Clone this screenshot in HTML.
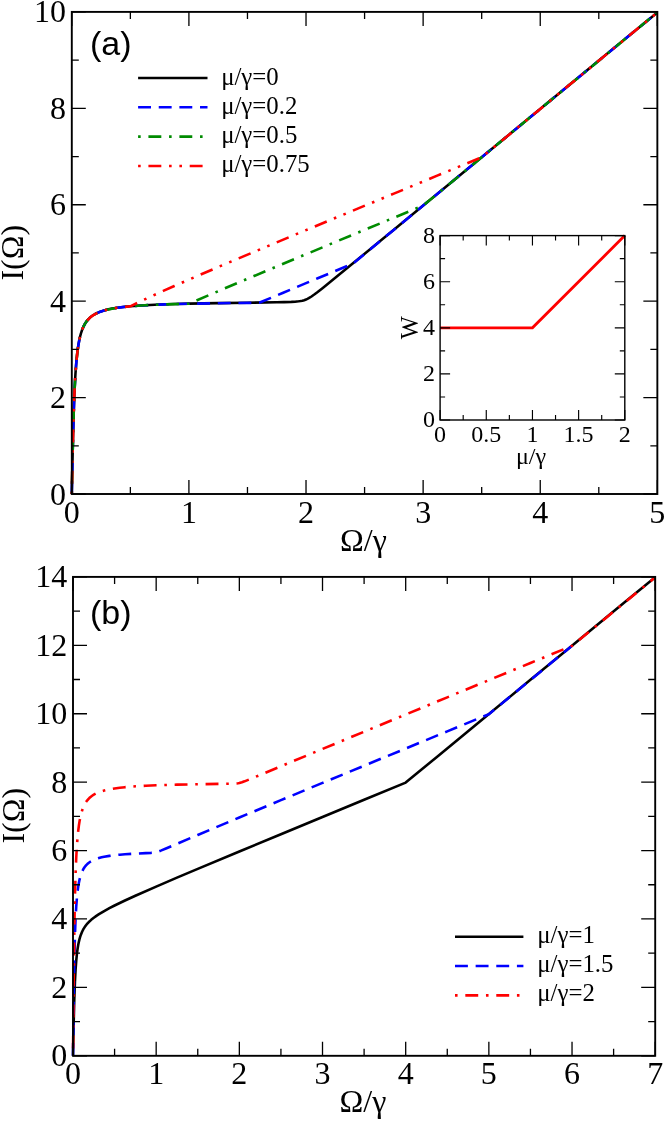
<!DOCTYPE html>
<html lang="en"><head><meta charset="utf-8"><title>I(Omega) versus Omega/gamma</title>
<style>
html,body{margin:0;padding:0;background:#fff;}
body{width:664px;height:1122px;overflow:hidden;font-family:"Liberation Serif",serif;}
svg{display:block;will-change:transform;}
text{fill:#000;font-family:"Liberation Serif",serif;}
text.sans{font-family:"Liberation Sans",sans-serif;}
</style></head><body>
<svg width="664" height="1122" viewBox="0 0 664 1122">
<rect width="664" height="1122" fill="#fff"/>
<!-- panel (a) -->
<g fill="none" stroke-width="2.58" stroke-linejoin="round">
<path d="M71.8 493.96L72.71 450.23L73.63 415.43L74.09 401.98L74.54 390.81L75 381.52L75.46 373.75L76.37 361.67L77.29 352.82L78.2 346.13L79.12 340.91L80.03 336.75L80.95 333.35L81.86 330.54L82.78 328.17L83.69 326.15L84.61 324.4L85.52 322.88L86.44 321.55L87.35 320.37L88.27 319.31L90.1 317.51L91.93 316.04L93.76 314.8L95.59 313.76L97.42 312.86L99.25 312.08L101.08 311.4L104.74 310.26L108.4 309.35L112.06 308.6L115.72 307.97L123.04 306.99L130.36 306.26L137.67 305.68L144.99 305.22L159.63 304.53L174.27 304.03L188.91 303.65L218.19 303.11L247.47 302.71L276.74 302.29L284.06 302.13L291.38 301.88L295.04 301.67L298.7 301.33L300.53 301.07L302.36 300.71L304.19 300.22L306.02 299.56L307.39 298.93L308.76 298.2L311.51 296.49L314.25 294.56L317 292.51L322.49 288.21L327.98 283.81L349.94 265.86L393.85 229.67L437.77 193.44L481.69 157.21L525.6 120.99L569.52 84.78L613.43 48.58L657.35 12.39" stroke="#000"/>
<path d="M71.8 494L72.53 458.49L73.26 428.09L74 404.52L74.73 386.93L75.46 373.8L76.19 363.83L76.92 356.1L77.66 349.98L78.39 345.03L79.12 340.95L79.85 337.55L80.58 334.68L81.32 332.21L82.05 330.08L82.78 328.21L83.51 326.57L84.97 323.82L86.44 321.59L87.9 319.77L89.37 318.24L90.83 316.94L92.29 315.82L93.76 314.85L95.22 314L98.15 312.59L101.08 311.45L104.01 310.52L106.93 309.74L109.86 309.08L112.79 308.52L118.64 307.6L124.5 306.88L130.36 306.31L142.07 305.46L153.78 304.84L165.49 304.38L188.91 303.74L212.33 303.31L235.75 303L259.18 302.77L270.89 297.86L282.6 292.95L294.31 288.05L306.02 283.16L317.73 278.28L329.44 273.41L341.15 268.53L352.86 263.67L390.92 232.2L428.99 200.76L467.05 169.35L505.11 137.94L543.17 106.55L581.23 75.17L619.29 43.79L657.35 12.42" stroke="#0000ff" stroke-dasharray="12.9 7.74"/>
<path d="M71.8 494L72.71 450.28L73.63 415.47L74.09 402.03L74.54 390.85L75 381.56L75.46 373.8L76.37 361.72L77.29 352.87L78.2 346.17L79.12 340.95L80.03 336.79L80.95 333.4L81.86 330.58L82.78 328.21L83.69 326.19L84.61 324.45L85.52 322.93L86.44 321.59L87.35 320.41L88.27 319.36L90.1 317.56L91.93 316.09L93.76 314.85L95.59 313.81L97.42 312.91L99.25 312.13L101.08 311.45L104.74 310.31L108.4 309.4L112.06 308.65L115.72 308.03L123.04 307.05L130.36 306.31L137.67 305.74L144.99 305.28L159.63 304.6L174.27 304.11L188.91 303.74L218.19 291.17L247.47 278.77L276.74 266.48L306.02 254.24L335.3 242.04L364.58 229.88L393.85 217.73L423.13 205.6L452.41 181.43L481.69 157.27L510.96 133.11L540.24 108.96L569.52 84.82L598.8 60.68L628.07 36.55L657.35 12.42" stroke="#008b00" stroke-dasharray="2.58 7.74 12.9 7.74"/>
<path d="M71.8 494L72.71 450.28L73.63 415.47L74.09 402.03L74.54 390.85L75 381.56L75.46 373.8L76.37 361.72L77.29 352.87L78.2 346.17L79.12 340.95L80.03 336.79L80.95 333.4L81.86 330.58L82.78 328.21L83.69 326.19L84.61 324.45L85.52 322.93L86.44 321.59L87.35 320.41L88.27 319.36L90.1 317.56L91.93 316.09L93.76 314.85L95.59 313.81L97.42 312.91L99.25 312.13L101.08 311.45L104.74 310.31L108.4 309.4L112.06 308.65L115.72 308.03L123.04 307.05L130.36 306.31L141.33 300.98L152.31 295.87L163.29 290.9L174.27 286.03L196.23 276.47L218.19 267.06L262.1 248.51L306.02 230.13L349.94 211.85L393.85 193.62L437.77 175.43L481.69 157.27L503.64 139.15L525.6 121.04L547.56 102.93L569.52 84.82L591.48 66.72L613.43 48.61L635.39 30.51L657.35 12.42" stroke="#ff0000" stroke-dasharray="2.58 7.74 12.9 7.74 2.58 7.74"/>
</g>
<path d="M71.8 494v-14M71.8 11.9v14M188.91 494v-14M188.91 11.9v14M306.02 494v-14M306.02 11.9v14M423.13 494v-14M423.13 11.9v14M540.24 494v-14M540.24 11.9v14M657.35 494v-14M657.35 11.9v14M130.36 494v-7M130.36 11.9v7M247.47 494v-7M247.47 11.9v7M364.58 494v-7M364.58 11.9v7M481.69 494v-7M481.69 11.9v7M598.8 494v-7M598.8 11.9v7M71.8 494h14M657.35 494h-14M71.8 397.58h14M657.35 397.58h-14M71.8 301.16h14M657.35 301.16h-14M71.8 204.74h14M657.35 204.74h-14M71.8 108.32h14M657.35 108.32h-14M71.8 11.9h14M657.35 11.9h-14M71.8 445.79h7M657.35 445.79h-7M71.8 349.37h7M657.35 349.37h-7M71.8 252.95h7M657.35 252.95h-7M71.8 156.53h7M657.35 156.53h-7M71.8 60.11h7M657.35 60.11h-7" stroke="#000" stroke-width="1.3" fill="none"/>
<rect x="71.8" y="11.9" width="585.55" height="482.1" fill="none" stroke="#000" stroke-width="1.9"/>
<text x="66" y="504.5" font-size="32" text-anchor="end">0</text>
<text x="66" y="408.08" font-size="32" text-anchor="end">2</text>
<text x="66" y="311.66" font-size="32" text-anchor="end">4</text>
<text x="66" y="215.24" font-size="32" text-anchor="end">6</text>
<text x="66" y="118.82" font-size="32" text-anchor="end">8</text>
<text x="66" y="22.4" font-size="32" text-anchor="end">10</text>
<text x="71.8" y="522.6" font-size="32" text-anchor="middle">0</text>
<text x="188.91" y="522.6" font-size="32" text-anchor="middle">1</text>
<text x="306.02" y="522.6" font-size="32" text-anchor="middle">2</text>
<text x="423.13" y="522.6" font-size="32" text-anchor="middle">3</text>
<text x="540.24" y="522.6" font-size="32" text-anchor="middle">4</text>
<text x="657.35" y="522.6" font-size="32" text-anchor="middle">5</text>
<text x="340.06" y="551.4" font-size="32">Ω/γ</text>
<g transform="translate(23 280.62) rotate(-90)">
<text x="0" y="0" font-size="32">I(Ω)</text>
</g>
<text class="sans" x="90" y="55" font-size="34">(a)</text>
<path d="M138.1 78H207.5" stroke="#000" stroke-width="2.58" fill="none"/>
<text x="221.2" y="84.5" font-size="24.8">μ/γ=0</text>
<path d="M138.1 107.33H207.5" stroke="#0000ff" stroke-width="2.58" fill="none" stroke-dasharray="12.9 7.74"/>
<text x="221.2" y="113.83" font-size="24.8">μ/γ=0.2</text>
<path d="M138.1 136.66H207.5" stroke="#008b00" stroke-width="2.58" fill="none" stroke-dasharray="2.58 7.74 12.9 7.74"/>
<text x="221.2" y="143.16" font-size="24.8">μ/γ=0.5</text>
<path d="M138.1 165.99H207.5" stroke="#ff0000" stroke-width="2.58" fill="none" stroke-dasharray="2.58 7.74 12.9 7.74 2.58 7.74"/>
<text x="221.2" y="172.49" font-size="24.8">μ/γ=0.75</text>
<!-- inset: W versus mu/gamma -->
<path d="M440.1 327.8L532.45 327.8L624.8 235.6" stroke="#ff0000" stroke-width="2.8" fill="none"/>
<path d="M440.1 420v-10M440.1 235.6v10M486.27 420v-10M486.27 235.6v10M532.45 420v-10M532.45 235.6v10M578.62 420v-10M578.62 235.6v10M624.8 420v-10M624.8 235.6v10M463.19 420v-5M463.19 235.6v5M509.36 420v-5M509.36 235.6v5M555.54 420v-5M555.54 235.6v5M601.71 420v-5M601.71 235.6v5M440.1 420h10M624.8 420h-10M440.1 373.9h10M624.8 373.9h-10M440.1 327.8h10M624.8 327.8h-10M440.1 281.7h10M624.8 281.7h-10M440.1 235.6h10M624.8 235.6h-10M440.1 396.95h5M624.8 396.95h-5M440.1 350.85h5M624.8 350.85h-5M440.1 304.75h5M624.8 304.75h-5M440.1 258.65h5M624.8 258.65h-5" stroke="#000" stroke-width="1.15" fill="none"/>
<rect x="440.1" y="235.6" width="184.7" height="184.4" fill="none" stroke="#000" stroke-width="1.4"/>
<text x="435.1" y="427.4" font-size="24" text-anchor="end">0</text>
<text x="435.1" y="381.3" font-size="24" text-anchor="end">2</text>
<text x="435.1" y="335.2" font-size="24" text-anchor="end">4</text>
<text x="435.1" y="289.1" font-size="24" text-anchor="end">6</text>
<text x="435.1" y="243" font-size="24" text-anchor="end">8</text>
<text x="440.1" y="441.7" font-size="24" text-anchor="middle">0</text>
<text x="486.27" y="441.7" font-size="24" text-anchor="middle">0.5</text>
<text x="532.45" y="441.7" font-size="24" text-anchor="middle">1</text>
<text x="578.62" y="441.7" font-size="24" text-anchor="middle">1.5</text>
<text x="624.8" y="441.7" font-size="24" text-anchor="middle">2</text>
<text x="515.97" y="463.6" font-size="24">μ/γ</text>
<text transform="translate(417.8 327.8) rotate(-90)" font-size="24.4" text-anchor="middle">W</text>
<!-- panel (b) -->
<g fill="none" stroke-width="2.58" stroke-linejoin="round">
<path d="M73 1055.8L73.65 1024.51L74.3 999.54L74.95 981.81L75.6 969.44L76.25 960.6L76.9 954.06L77.55 949.04L78.2 945.07L78.85 941.85L79.5 939.17L80.15 936.91L80.8 934.96L82.1 931.75L83.4 929.19L84.7 927.07L86 925.26L87.3 923.68L88.59 922.27L91.19 919.83L93.79 917.72L96.39 915.84L98.99 914.13L104.19 911.02L109.39 908.18L114.59 905.52L124.98 900.52L135.38 895.75L156.17 886.59L176.96 877.68L197.76 868.88L239.34 851.47L280.93 834.19L322.51 816.96L364.1 799.77L405.69 782.6L436.88 756.91L468.06 731.22L499.25 705.53L530.44 679.85L561.63 654.18L592.82 628.5L624.01 602.83L655.2 577.16" stroke="#000"/>
<path d="M73 1055.8L73.65 1001.76L74.3 961.67L74.95 935.43L75.6 918.21L76.25 906.42L76.9 897.98L77.55 891.67L78.2 886.81L78.85 882.95L79.5 879.83L80.15 877.24L80.8 875.07L81.45 873.23L82.1 871.63L83.4 869.04L84.7 867.01L86 865.38L87.3 864.04L88.59 862.92L89.89 861.97L91.19 861.16L93.79 859.84L96.39 858.81L98.99 857.99L101.59 857.31L104.19 856.75L109.39 855.86L114.59 855.19L119.78 854.67L124.98 854.25L135.38 853.62L145.78 853.12L150.97 852.85L153.57 852.64L154.87 852.47L156.17 852.21L158.77 851.42L161.37 850.42L166.57 848.26L176.96 843.83L197.76 834.99L239.34 817.51L280.93 800.18L322.51 782.92L364.1 765.71L405.69 748.53L447.27 731.36L488.86 714.2L499.25 705.64L509.65 697.08L520.05 688.52L530.44 679.95L540.84 671.39L551.24 662.83L561.63 654.27L572.03 645.71" stroke="#0000ff" stroke-dasharray="12.9 7.74"/>
<path d="M73 1055.8L73.65 984.46L74.3 931.26L74.95 896.24L75.6 873.19L76.25 857.37L76.9 846.02L77.55 837.54L78.2 830.99L78.85 825.8L79.5 821.59L80.15 818.11L80.8 815.19L81.45 812.7L82.1 810.56L83.4 807.06L84.7 804.32L86 802.12L87.3 800.32L88.59 798.82L89.89 797.54L91.19 796.45L92.49 795.5L93.79 794.66L96.39 793.28L98.99 792.17L101.59 791.26L104.19 790.5L106.79 789.86L109.39 789.3L114.59 788.41L119.78 787.71L124.98 787.16L135.38 786.32L145.78 785.72L156.17 785.27L176.96 784.64L197.76 784.21L218.55 783.89L228.95 783.72L234.14 783.57L236.74 783.41L238.04 783.26L239.34 783.03L241.94 782.29L244.54 781.33L249.74 779.24L260.14 774.94L280.93 766.27L322.51 748.97L364.1 731.73L405.69 714.51L447.27 697.32L488.86 680.15L530.44 662.99L572.03 645.84L582.43 637.28L592.82 628.72L603.22 620.15L613.61 611.59L624.01 603.03L634.41 594.47L644.8 585.91L655.2 577.35" stroke="#ff0000" stroke-dasharray="2.58 7.74 12.9 7.74" stroke-dashoffset="2.9"/>
</g>
<path d="M73 1055.8v-14M73 576.9v14M156.17 1055.8v-14M156.17 576.9v14M239.34 1055.8v-14M239.34 576.9v14M322.51 1055.8v-14M322.51 576.9v14M405.69 1055.8v-14M405.69 576.9v14M488.86 1055.8v-14M488.86 576.9v14M572.03 1055.8v-14M572.03 576.9v14M655.2 1055.8v-14M655.2 576.9v14M114.59 1055.8v-7M114.59 576.9v7M197.76 1055.8v-7M197.76 576.9v7M280.93 1055.8v-7M280.93 576.9v7M364.1 1055.8v-7M364.1 576.9v7M447.27 1055.8v-7M447.27 576.9v7M530.44 1055.8v-7M530.44 576.9v7M613.61 1055.8v-7M613.61 576.9v7M73 1055.8h14M655.2 1055.8h-14M73 987.39h14M655.2 987.39h-14M73 918.97h14M655.2 918.97h-14M73 850.56h14M655.2 850.56h-14M73 782.14h14M655.2 782.14h-14M73 713.73h14M655.2 713.73h-14M73 645.31h14M655.2 645.31h-14M73 576.9h14M655.2 576.9h-14M73 1021.59h7M655.2 1021.59h-7M73 953.18h7M655.2 953.18h-7M73 884.76h7M655.2 884.76h-7M73 816.35h7M655.2 816.35h-7M73 747.94h7M655.2 747.94h-7M73 679.52h7M655.2 679.52h-7M73 611.11h7M655.2 611.11h-7" stroke="#000" stroke-width="1.3" fill="none"/>
<rect x="73" y="576.9" width="582.2" height="478.9" fill="none" stroke="#000" stroke-width="1.9"/>
<text x="67.2" y="1066.3" font-size="32" text-anchor="end">0</text>
<text x="67.2" y="997.89" font-size="32" text-anchor="end">2</text>
<text x="67.2" y="929.47" font-size="32" text-anchor="end">4</text>
<text x="67.2" y="861.06" font-size="32" text-anchor="end">6</text>
<text x="67.2" y="792.64" font-size="32" text-anchor="end">8</text>
<text x="67.2" y="724.23" font-size="32" text-anchor="end">10</text>
<text x="67.2" y="655.81" font-size="32" text-anchor="end">12</text>
<text x="67.2" y="587.4" font-size="32" text-anchor="end">14</text>
<text x="73" y="1084.2" font-size="32" text-anchor="middle">0</text>
<text x="156.17" y="1084.2" font-size="32" text-anchor="middle">1</text>
<text x="239.34" y="1084.2" font-size="32" text-anchor="middle">2</text>
<text x="322.51" y="1084.2" font-size="32" text-anchor="middle">3</text>
<text x="405.69" y="1084.2" font-size="32" text-anchor="middle">4</text>
<text x="488.86" y="1084.2" font-size="32" text-anchor="middle">5</text>
<text x="572.03" y="1084.2" font-size="32" text-anchor="middle">6</text>
<text x="655.2" y="1084.2" font-size="32" text-anchor="middle">7</text>
<text x="339.59" y="1112.4" font-size="32">Ω/γ</text>
<g transform="translate(24.2 843.62) rotate(-90)">
<text x="0" y="0" font-size="32">I(Ω)</text>
</g>
<text class="sans" x="90" y="624" font-size="34">(b)</text>
<path d="M455 936.7H523.4" stroke="#000" stroke-width="2.58" fill="none"/>
<text x="537.3" y="942.6" font-size="24.8">μ/γ=1</text>
<path d="M455 966.05H523.4" stroke="#0000ff" stroke-width="2.58" fill="none" stroke-dasharray="12.9 7.74"/>
<text x="537.3" y="971.95" font-size="24.8">μ/γ=1.5</text>
<path d="M455 995.4H523.4" stroke="#ff0000" stroke-width="2.58" fill="none" stroke-dasharray="2.58 7.74 12.9 7.74"/>
<text x="537.3" y="1001.3" font-size="24.8">μ/γ=2</text>
</svg>
</body></html>
